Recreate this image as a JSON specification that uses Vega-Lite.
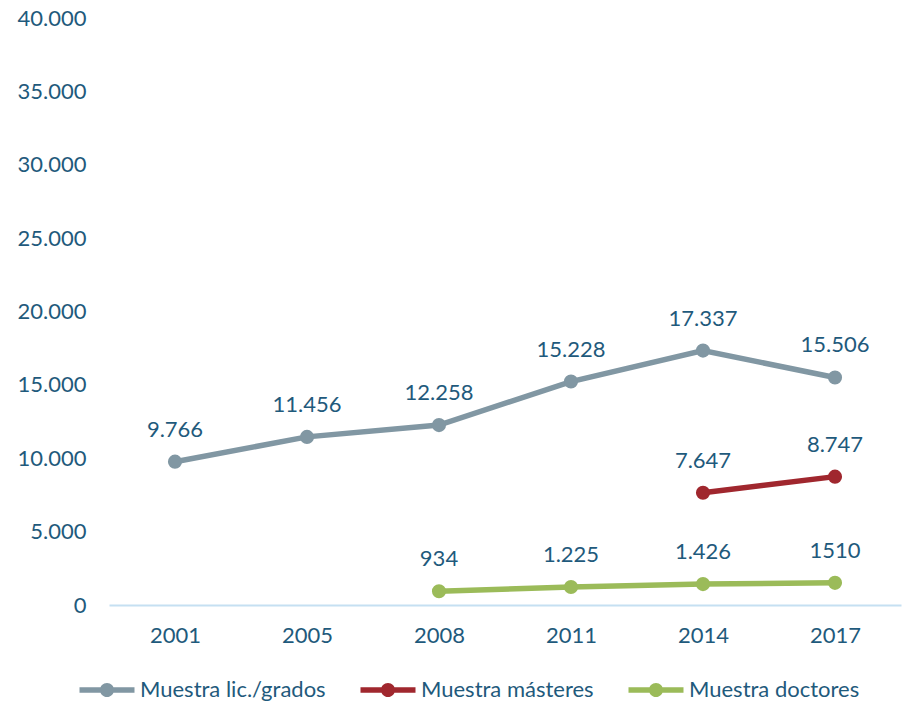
{
  "$schema": "https://vega.github.io/schema/vega-lite/v6.json",
  "width": 792,
  "height": 587,
  "autosize": "none",
  "padding": {"left": 109, "top": 18, "right": 4, "bottom": 98},
  "config": {
    "locale": {"number": {"decimal": ",", "thousands": ".", "grouping": [3], "currency": ["", " €"]}},
    "view": {"stroke": null},
    "font": "Lato",
    "axis": {"grid": false, "ticks": false, "labelFont": "Lato", "labelFontSize": 22, "labelColor": "#1F5A7C", "title": null}
  },
  "data": {
    "values": [
      {"year": "2001", "series": "Muestra lic./grados", "value": 9766, "label": "9.766"},
      {"year": "2005", "series": "Muestra lic./grados", "value": 11456, "label": "11.456"},
      {"year": "2008", "series": "Muestra lic./grados", "value": 12258, "label": "12.258"},
      {"year": "2011", "series": "Muestra lic./grados", "value": 15228, "label": "15.228"},
      {"year": "2014", "series": "Muestra lic./grados", "value": 17337, "label": "17.337"},
      {"year": "2017", "series": "Muestra lic./grados", "value": 15506, "label": "15.506"},
      {"year": "2014", "series": "Muestra másteres", "value": 7647, "label": "7.647"},
      {"year": "2017", "series": "Muestra másteres", "value": 8747, "label": "8.747"},
      {"year": "2008", "series": "Muestra doctores", "value": 934, "label": "934"},
      {"year": "2011", "series": "Muestra doctores", "value": 1225, "label": "1.225"},
      {"year": "2014", "series": "Muestra doctores", "value": 1426, "label": "1.426"},
      {"year": "2017", "series": "Muestra doctores", "value": 1510, "label": "1510"}
    ]
  },
  "encoding": {
    "x": {
      "field": "year",
      "type": "ordinal",
      "sort": ["2001", "2005", "2008", "2011", "2014", "2017"],
      "axis": {"labelAngle": 0, "domainColor": "#C5E0F2", "domainWidth": 2, "labelPadding": 20}
    },
    "y": {
      "field": "value",
      "type": "quantitative",
      "scale": {"domain": [0, 40000], "nice": false},
      "axis": {"domain": false, "values": [0, 5000, 10000, 15000, 20000, 25000, 30000, 35000, 40000], "format": ",d", "labelPadding": 23}
    },
    "color": {
      "field": "series",
      "type": "nominal",
      "scale": {
        "domain": ["Muestra lic./grados", "Muestra másteres", "Muestra doctores"],
        "range": ["#8197A3", "#A0272E", "#9BBB59"]
      },
      "legend": {
        "title": null,
        "orient": "none",
        "direction": "horizontal",
        "legendX": -13,
        "legendY": 661,
        "columnPadding": 34,
        "labelOffset": 22,
        "labelLimit": 400,
        "labelFont": "Lato",
        "labelFontSize": 22,
        "labelColor": "#1F5A7C",
        "symbolType": "M-2.5,-0.25 H2.5 V0.25 H-2.5 Z M-0.64,0 A0.64,0.64 0 1,1 0.64,0 A0.64,0.64 0 1,1 -0.64,0 Z",
        "symbolSize": 484,
        "symbolStrokeWidth": 0,
        "symbolOpacity": 1,
        "encode": {
          "symbols": {
            "update": {
              "fill": {"scale": "color", "field": "value"},
              "stroke": {"value": "transparent"},
              "opacity": {"value": 1}
            }
          }
        }
      }
    }
  },
  "layer": [
    {"mark": {"type": "line", "strokeWidth": 5.5}},
    {"mark": {"type": "point", "filled": true, "size": 200, "opacity": 1}},
    {
      "mark": {"type": "text", "dy": -25, "baseline": "alphabetic", "fontSize": 22, "font": "Lato"},
      "encoding": {"text": {"field": "label"}, "color": {"value": "#1F5A7C"}}
    }
  ]
}
